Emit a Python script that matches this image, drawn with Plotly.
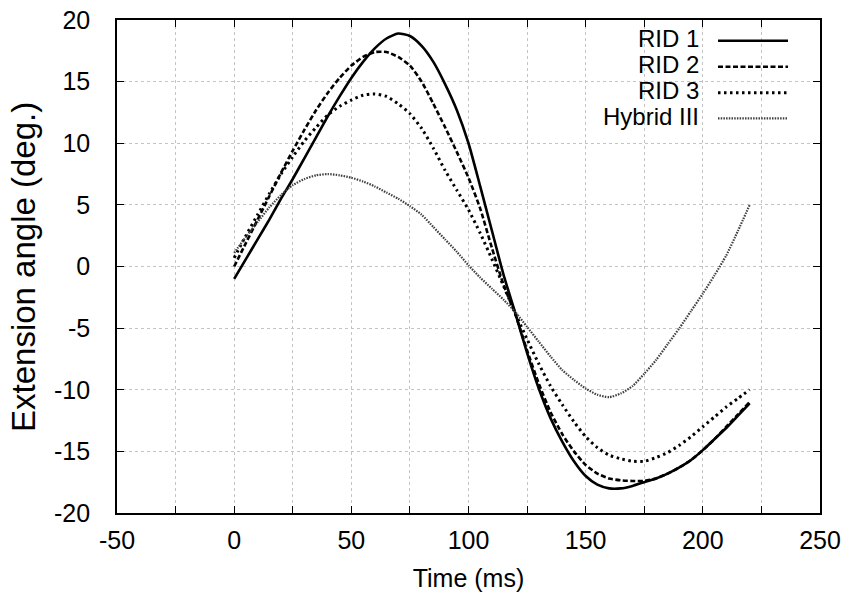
import plotly.graph_objects as go

# ---- data ----
time_ms = [0, 5, 10, 15, 20, 25, 30, 35, 40, 45, 50, 55, 60, 65, 70, 75, 80, 85, 90, 95,
           100, 105, 110, 115, 120, 125, 130, 135, 140, 145, 150, 155, 160, 165, 170, 175,
           180, 185, 190, 195, 200, 205, 210, 215, 220]

rid1 = [-1.0, 0.6, 2.2, 3.8, 5.5, 7.1, 8.8, 10.5, 12.2, 13.8, 15.3, 16.6, 17.7, 18.5, 18.9,
        18.7, 17.9, 16.6, 14.8, 12.7, 10.0, 6.5, 2.9, -0.7, -3.8, -7.0, -9.9, -12.3, -14.2,
        -15.8, -17.0, -17.7, -18.0, -18.0, -17.8, -17.5, -17.2, -16.8, -16.3, -15.7, -14.9,
        -14.0, -13.1, -12.1, -11.1]

rid2 = [0.0, 1.9, 3.8, 5.7, 7.6, 9.4, 11.1, 12.7, 14.1, 15.3, 16.3, 17.0, 17.4, 17.4, 17.0,
        16.3, 15.0, 13.2, 11.3, 9.3, 7.2, 4.7, 1.5, -1.5, -3.9, -6.8, -9.5, -11.8, -13.6,
        -15.0, -16.1, -16.8, -17.2, -17.35, -17.4, -17.4, -17.2, -16.8, -16.3, -15.7, -14.9,
        -14.0, -13.0, -12.0, -11.0]

rid3 = [0.7, 2.5, 4.2, 5.9, 7.5, 8.9, 10.2, 11.3, 12.3, 13.0, 13.5, 13.9, 14.0, 13.8, 13.2,
        12.4, 11.2, 9.6, 7.8, 6.2, 4.6, 2.7, 0.6, -1.6, -3.8, -5.9, -7.9, -9.7, -11.2,
        -12.6, -13.8, -14.7, -15.3, -15.6, -15.8, -15.8, -15.5, -15.1, -14.5, -13.8, -13.0,
        -12.2, -11.4, -10.7, -10.0]

hybrid3 = [1.1, 2.4, 3.6, 4.8, 5.8, 6.6, 7.1, 7.4, 7.5, 7.4, 7.2, 6.9, 6.5, 6.0, 5.5,
           4.9, 4.2, 3.2, 2.2, 1.2, 0.1, -0.9, -1.8, -2.7, -3.7, -4.9, -6.1, -7.3, -8.4,
           -9.2, -9.9, -10.4, -10.6, -10.3, -9.7, -8.7, -7.6, -6.3, -5.0, -3.6, -2.2,
           -0.7, 0.9, 2.9, 5.0]

series_names = ["RID 1", "RID 2", "RID 3", "Hybrid III"]
x_tick_vals = [-50, -25, 0, 25, 50, 75, 100, 125, 150, 175, 200, 225, 250]
x_tick_text = ["-50", "", "0", "", "50", "", "100", "", "150", "", "200", "", "250"]
y_tick_vals = [-20, -15, -10, -5, 0, 5, 10, 15, 20]
y_tick_text = ["-20", "-15", "-10", "-5", "0", "5", "10", "15", "20"]

# ---- styles ----
styles = [
    dict(color="#000000", width=2.6, dash="solid"),
    dict(color="#000000", width=2.6, dash="5px,2.5px"),
    dict(color="#000000", width=3.0, dash="2.5px,3.5px"),
    dict(color="#404040", width=2.2, dash="1.5px,1.2px"),
]

FONT = "Liberation Sans, Arial, Helvetica, sans-serif"
fig = go.Figure()
for name, ys, st in zip(series_names, [rid1, rid2, rid3, hybrid3], styles):
    fig.add_trace(go.Scatter(x=time_ms, y=ys, mode="lines", name=name,
                             line=dict(shape="spline", smoothing=0.6, **st),
                             showlegend=False))

# body margin is set to 0 after rendering (post_script); plot area 117..820 x 20..513
L, R, T, B = 117, 820, 20, 513
W, H = 851, 595
def px(v):
    return (v - L) / (R - L)
def py(v):
    return (B - v) / (B - T)

fig.add_shape(type="rect", xref="paper", yref="paper",
              x0=px(542), x1=1.0, y0=py(133), y1=1.0,
              fillcolor="white", line=dict(width=0), layer="between")

row_y = [40.7, 66.7, 92.7, 118.3]
for name, st, ry in zip(series_names, styles, row_y):
    fig.add_shape(type="line", xref="paper", yref="paper",
                  x0=px(718), x1=px(788), y0=py(ry), y1=py(ry),
                  line=dict(color=st["color"], width=st["width"], dash=st["dash"]))
    fig.add_annotation(xref="paper", yref="paper", x=px(701), y=py(ry - 2),
                       text=name, showarrow=False, xanchor="right", yanchor="middle",
                       font=dict(family=FONT, size=24, color="black"))

# y-axis title placed as a rotated annotation
fig.add_annotation(xref="paper", yref="paper", x=px(23), y=py(267),
                   text="Extension angle (deg.)", textangle=-90, showarrow=False,
                   xanchor="center", yanchor="middle",
                   font=dict(family=FONT, size=33, color="black"))

axis_common = dict(
    showline=True, linecolor="black", linewidth=1.6, mirror="ticks",
    ticks="inside", ticklen=7, tickwidth=1.2, tickcolor="black",
    showgrid=True, gridcolor="#c4c4c4", griddash="dot", gridwidth=1,
    zeroline=False, ticklabeloverflow="allow",
    tickfont=dict(family=FONT, size=25, color="black"),
)

fig.update_xaxes(range=[-50, 250], tickmode="array", tickvals=x_tick_vals,
                 ticktext=x_tick_text, ticklabelstandoff=4,
                 title=dict(text="Time (ms)", standoff=17,
                            font=dict(family=FONT, size=25, color="black")),
                 **axis_common)
fig.update_yaxes(range=[-20, 20], tickmode="array", tickvals=y_tick_vals,
                 ticktext=y_tick_text, ticklabelstandoff=20,
                 **axis_common)

fig.update_layout(width=W, height=H,
                  margin=dict(l=L, r=W - R, t=T, b=H - B, autoexpand=False),
                  paper_bgcolor="white", plot_bgcolor="white",
                  showlegend=False)

fig.write_html("out.html",
               config={"displayModeBar": False},
               post_script="document.body.style.margin='0';"
                           "document.body.style.overflow='hidden';")
